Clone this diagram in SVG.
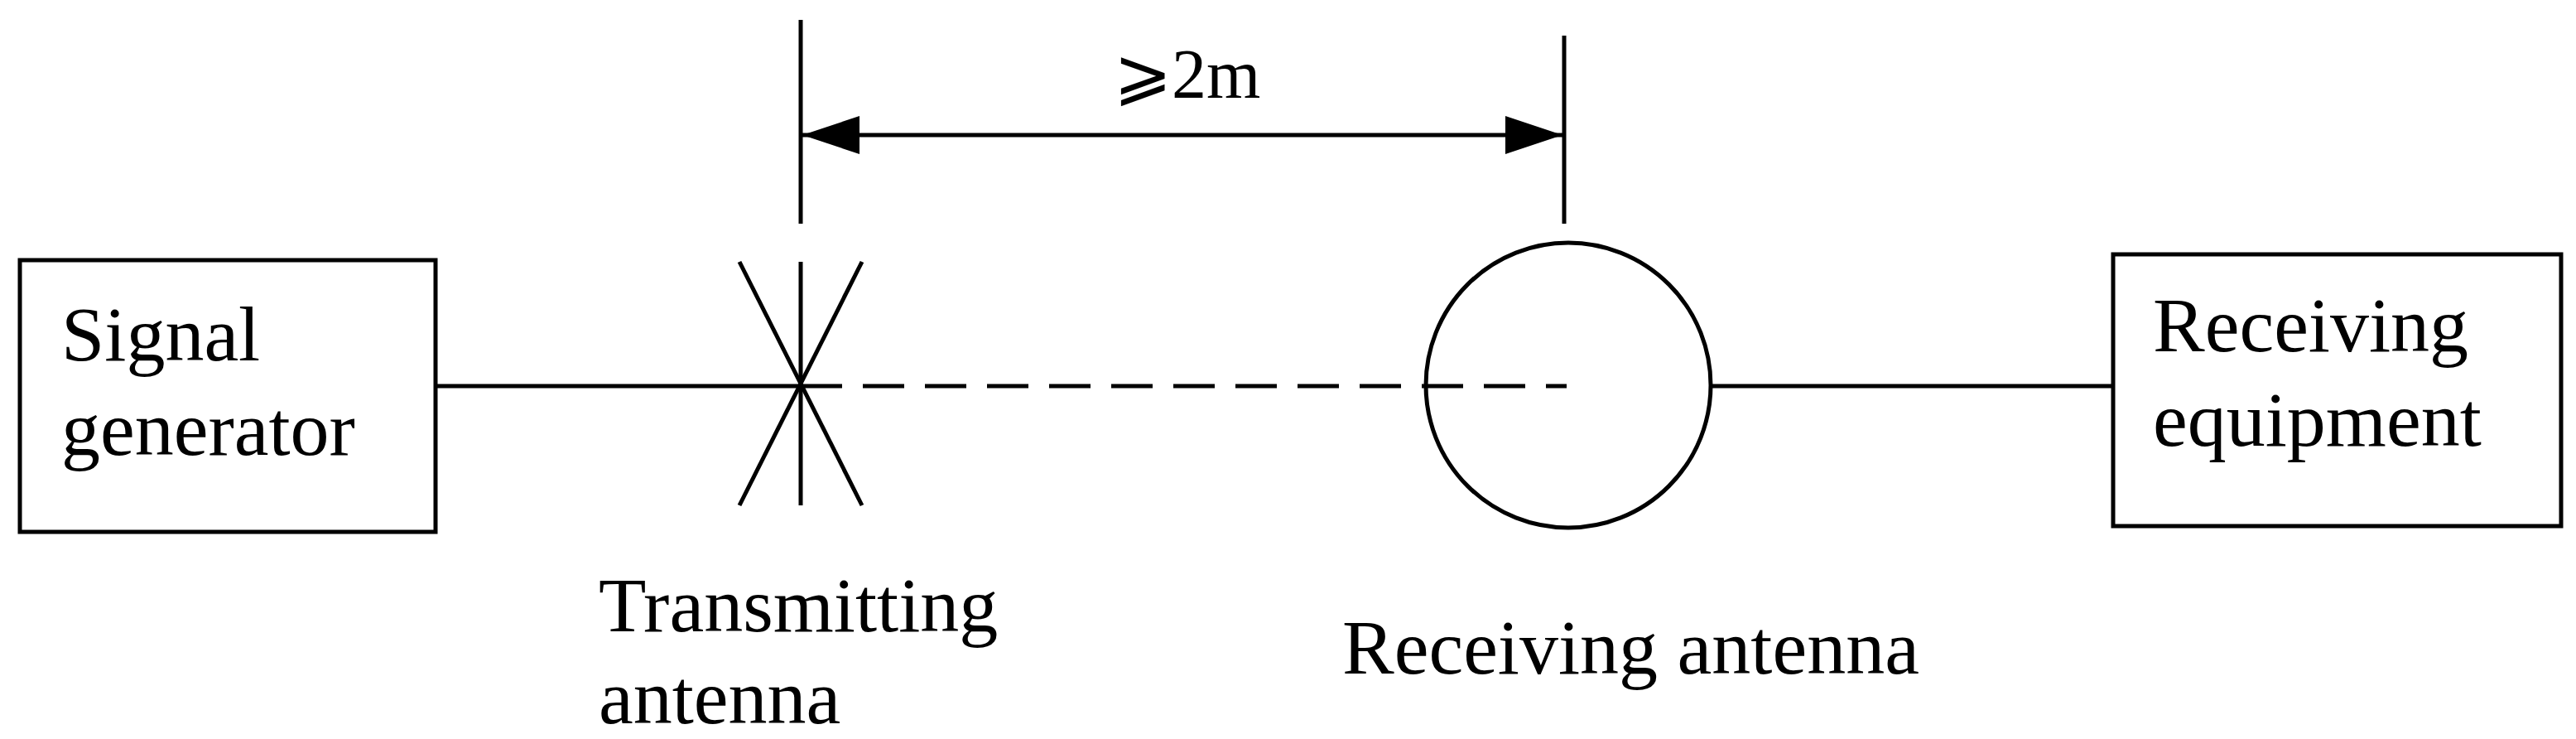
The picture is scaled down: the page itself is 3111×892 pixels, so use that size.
<svg xmlns="http://www.w3.org/2000/svg" width="3111" height="892" viewBox="0 0 3111 892">
<style>
.s{stroke:#000;stroke-width:5;fill:none}
.t{font-family:"Liberation Serif","DejaVu Serif",serif;font-size:94px;fill:#000}
</style>
<defs>
<marker id="ah" markerWidth="70" markerHeight="46" refX="69" refY="23" orient="auto-start-reverse" markerUnits="userSpaceOnUse">
<path d="M0,0 L69,23 L0,46 Z" fill="#000"/>
</marker>
</defs>
<rect width="3111" height="892" fill="#fff"/>
<g id="signal-generator">
<rect class="s" x="24" y="314" width="502" height="328"/>
<text class="t" x="74" y="435">Signal</text>
<text class="t" x="74" y="549">generator</text>
</g>
<g id="transmitting-antenna">
<line class="s" x1="967" y1="316" x2="967" y2="610"/>
<line class="s" x1="893" y1="316" x2="1041" y2="610"/>
<line class="s" x1="1041" y1="316" x2="893" y2="610"/>
<text class="t" x="723" y="762">Transmitting</text>
<text class="t" x="723" y="873">antenna</text>
</g>
<g id="receiving-antenna">
<circle class="s" cx="1894" cy="465" r="172"/>
<text class="t" x="1621" y="813">Receiving antenna</text>
</g>
<g id="receiving-equipment">
<rect class="s" x="2552" y="307" width="541" height="328"/>
<text class="t" x="2600" y="424">Receiving</text>
<text class="t" x="2600" y="538">equipment</text>
</g>
<g id="connectors">
<line class="s" x1="526" y1="466" x2="967" y2="466"/>
<line class="s" x1="967" y1="466" x2="1892" y2="466" stroke-dasharray="50 25"/>
<line class="s" x1="2066" y1="466" x2="2552" y2="466"/>
<line class="s" x1="967" y1="24" x2="967" y2="270" stroke-width="4"/>
<line class="s" x1="1889" y1="43" x2="1889" y2="270" stroke-width="4"/>
<line class="s" x1="969" y1="163" x2="1887" y2="163" marker-start="url(#ah)" marker-end="url(#ah)"/>
<text x="1345" y="118" style="font-family:'Liberation Serif','DejaVu Serif',serif;font-size:84px">⩾2m</text>
</g>
</svg>
